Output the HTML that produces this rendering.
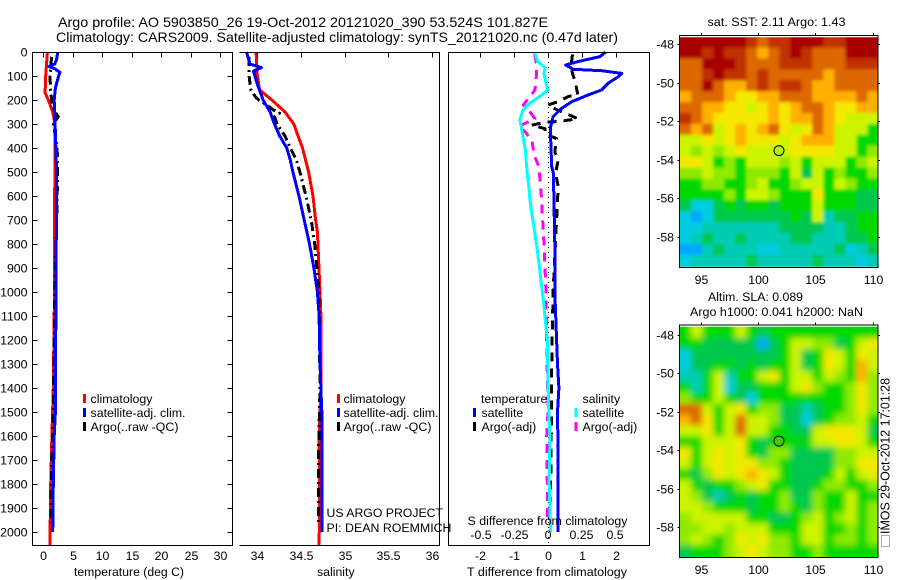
<!DOCTYPE html>
<html>
<head>
<meta charset="utf-8">
<title>Argo profile</title>
<style>
html,body{margin:0;padding:0;background:#fff;}
svg{display:block;}
text{font-family:"Liberation Sans",sans-serif;font-size:12.3px;fill:#000;}
.ttl{font-size:14px;}
</style>
</head>
<body>
<svg id="chart" xmlns="http://www.w3.org/2000/svg" width="900" height="580" viewBox="0 0 900 580">
<rect width="900" height="580" fill="#fff"/>
<text class="ttl" x="58" y="27" textLength="490" lengthAdjust="spacingAndGlyphs">Argo profile: AO 5903850_26 19-Oct-2012 20121020_390 53.524S 101.827E</text>
<text class="ttl" x="56" y="42" textLength="562" lengthAdjust="spacingAndGlyphs">Climatology: CARS2009. Satellite-adjusted climatology: synTS_20121020.nc (0.47d later)</text>
<g id="plots"></g>
<g id="maps"></g>

<text x="74" y="576" textLength="110" lengthAdjust="spacingAndGlyphs">temperature (deg C)</text>
<text x="317" y="576">salinity</text>
<text x="467" y="576" textLength="160" lengthAdjust="spacingAndGlyphs">T difference from climatology</text>
<text x="467.5" y="525" textLength="160" lengthAdjust="spacingAndGlyphs">S difference from climatology</text>

<g>
<rect x="83" y="394" width="3" height="9" fill="#f00"/>
<text x="90.5" y="403" textLength="62" lengthAdjust="spacingAndGlyphs">climatology</text>
<rect x="83" y="408" width="3" height="9" fill="#00f"/>
<text x="90.5" y="417" textLength="95" lengthAdjust="spacingAndGlyphs">satellite-adj. clim.</text>
<rect x="83" y="422" width="3" height="9" fill="#000"/>
<text x="90.5" y="431" textLength="88" lengthAdjust="spacingAndGlyphs">Argo(..raw -QC)</text>
</g>
<g>
<rect x="337" y="394" width="3" height="9" fill="#f00"/>
<text x="343.5" y="403" textLength="62" lengthAdjust="spacingAndGlyphs">climatology</text>
<rect x="337" y="408" width="3" height="9" fill="#00f"/>
<text x="343.5" y="417" textLength="95" lengthAdjust="spacingAndGlyphs">satellite-adj. clim.</text>
<rect x="337" y="422" width="3" height="9" fill="#000"/>
<text x="343.5" y="431" textLength="88" lengthAdjust="spacingAndGlyphs">Argo(..raw -QC)</text>
</g>
<g>
<text x="481" y="403">temperature</text>
<rect x="473" y="408" width="3" height="9" fill="#00f"/>
<text x="481.5" y="417">satellite</text>
<rect x="473" y="422" width="3" height="9" fill="#000"/>
<text x="481.5" y="431">Argo(-adj)</text>
<text x="582.5" y="403">salinity</text>
<rect x="574.5" y="408" width="3" height="9" fill="#0ff"/>
<text x="582.5" y="417">satellite</text>
<rect x="574.5" y="422" width="3" height="9" fill="#f0f"/>
<text x="582.5" y="431">Argo(-adj)</text>
</g>

<text x="326.5" y="517" textLength="116.5" lengthAdjust="spacingAndGlyphs">US ARGO PROJECT</text>
<text x="326.5" y="532" textLength="125" lengthAdjust="spacingAndGlyphs">PI: DEAN ROEMMICH</text>

<text x="707.5" y="26" textLength="138" lengthAdjust="spacingAndGlyphs">sat. SST: 2.11 Argo: 1.43</text>
<text x="708" y="301" textLength="95" lengthAdjust="spacingAndGlyphs">Altim. SLA: 0.089</text>
<text x="690" y="316" textLength="173" lengthAdjust="spacingAndGlyphs">Argo h1000: 0.041 h2000: NaN</text>

<rect x="881.5" y="535.5" width="8" height="11" fill="none" stroke="#555" stroke-dasharray="1 1"/>
<text transform="translate(889.5,534) rotate(-90)" textLength="156" lengthAdjust="spacingAndGlyphs" style="font-size:13px">IMOS 29-Oct-2012 17:01:28</text>
</svg>

<script>
// ---------- Profile data ----------
const depthTicks = [0,100,200,300,400,500,600,700,800,900,1000,1100,1200,1300,1400,1500,1600,1700,1800,1900,2000];
const tempTicks = [0,5,10,15,20,25,30];
const salTicks = [34,34.5,35,35.5,36];
const tDiffTicks = [-2,-1,0,1,2];
const sDiffTicks = [-0.5,-0.25,0,0.25,0.5];
const sDiffTickLabels = ["-0.5","-0.25","0","0.25","0.5"];

const tempClimDepth = [0,100,170,200,250,300,500,1000,1400,1600,1800,2000,2054];
const tempClimValue = [0.75,0.45,0.35,0.9,1.65,2.05,2.0,1.95,1.75,1.5,1.3,1.2,1.15];
const tempSatDepth = [0,30,50,60,70,85,100,150,200,300,500,1000,1400,1500,1600,1800,2000];
const tempSatValue = [2.5,2.3,2.0,1.0,2.0,2.9,2.65,2.1,1.9,2.05,2.3,2.2,2.1,2.1,1.9,1.75,1.65];
const tempArgoDepth = [20,100,150,200,240,270,300,320,400,500,600,1000,1500,1700,1900,1960];
const tempArgoValue = [1.45,1.2,1.25,1.45,1.8,2.6,1.75,1.9,2.4,2.45,2.4,2.0,1.75,1.45,1.35,1.3];

const salClimDepth = [0,87,158,200,250,300,350,400,500,600,700,750,1000,1100,1400,1600,1900,2054];
const salClimValue = [33.99,34.0,34.03,34.17,34.32,34.42,34.47,34.52,34.59,34.64,34.67,34.69,34.72,34.73,34.73,34.71,34.715,34.71];
const salSatDepth = [0,50,65,80,130,160,200,250,300,350,400,450,500,600,700,750,800,900,1000,1100,1300,1500,2000];
const salSatValue = [33.88,33.92,34.05,33.96,34.0,34.03,34.07,34.15,34.2,34.26,34.34,34.38,34.41,34.48,34.54,34.57,34.6,34.65,34.69,34.71,34.72,34.74,34.74];
const salArgoDepth = [20,100,160,190,200,220,240,255,270,300,350,400,450,500,600,700,750,800,1000,1400,1700,1960];
const salArgoValue = [33.91,33.91,33.93,33.99,34.02,34.11,34.18,34.26,34.2,34.23,34.32,34.38,34.45,34.49,34.56,34.62,34.64,34.66,34.71,34.72,34.7,34.7];

const tDiffSatDepth = [0,19,40,54,72,78,89,103,130,158,179,207,235,269,311,367,478,506,800,1000,1300,1400,1500,1700,1900,2000];
const tDiffSatValue = [1.7,1.53,0.88,0.52,0.74,1.58,2.17,2.07,1.77,1.58,1.18,0.7,0.4,0.15,0.08,0.08,0.11,0.16,0.2,0.2,0.28,0.32,0.28,0.3,0.3,0.3];
const sDiffSatDepth = [0,40,54,65,89,130,158,179,213,240,281,323,406,506,574,617,825,1033,1200,1450,1617,1783,2000];
const sDiffSatValue = [-0.1,-0.077,-0.047,-0.022,-0.03,-0.015,-0.002,-0.047,-0.134,-0.184,-0.21,-0.196,-0.17,-0.155,-0.14,-0.135,-0.08,-0.035,-0.005,0.003,0.015,0.008,0.02];
const tDiffArgoDepth = [10,33,65,130,179,185,204,221,240,278,290,292,305,319,340,361,417,450,506,560,1000,1300,1700,1950];
const tDiffArgoValue = [0.72,0.7,0.67,0.81,0.88,0.6,0.35,0,0.25,0.88,0.3,-0.06,-0.48,-0.09,-0.09,0.25,0.2,0.3,0.22,0.3,0.15,0.11,0.09,0.05];
const sDiffArgoDepth = [10,49,89,158,194,221,240,278,310,333,367,430,478,533,600,800,1000,1200,1500,1600,1800,1950];
const sDiffArgoValue = [-0.1,-0.085,-0.085,-0.097,-0.147,-0.184,-0.147,-0.097,-0.22,-0.17,-0.12,-0.104,-0.067,-0.06,-0.05,-0.03,-0.015,-0.01,0,-0.01,-0.005,-0.005];

// ---------- Map data (colour-class values) ----------
const lonTicks = [95,100,105,110];
const latTicks = [48,50,52,54,56,58];
const latTickLabels = ["-48","-50","-52","-54","-56","-58"];
const sstGrid = [
[11,11,11,11,11,11,10,9,10,10,11,11,11,10,10,11,11,11],
[11,11,10,11,10,10,9,8,9,10,11,10,9,9,9,11,11,11],
[9,9,11,11,11,10,9,9,9,10,10,10,9,9,9,10,10,10],
[9,9,10,11,10,10,9,10,9,9,9,9,9,8,9,9,9,9],
[9,9,11,9,8,8,9,10,9,10,10,9,8,8,9,9,9,9],
[8,9,9,9,8,7,7,8,8,9,9,9,8,8,8,8,9,8],
[9,9,8,8,7,7,6,7,8,7,8,9,9,8,7,7,8,8],
[10,9,8,7,7,7,7,7,8,7,8,8,9,8,7,6,6,6],
[9,8,9,6,7,8,7,8,9,7,6,7,9,8,6,6,6,4],
[6,6,7,6,7,8,7,7,7,6,7,8,8,8,6,6,4,4],
[6,5,6,5,6,7,6,6,6,6,7,7,7,7,6,6,4,5],
[7,7,6,4,5,4,6,6,6,5,6,4,6,6,6,4,5,6],
[5,5,6,5,5,4,5,5,5,4,6,3,6,4,5,4,4,5],
[4,4,5,5,4,4,5,6,4,4,5,6,6,4,6,5,4,4],
[4,4,4,4,5,4,6,6,5,4,4,4,7,4,4,4,3,3],
[3,1,1,3,4,3,4,4,3,4,4,4,6,4,4,4,3,3],
[1,0,1,3,3,3,3,3,3,3,4,3,6,2,3,3,4,4],
[1,1,2,2,2,2,2,2,2,3,3,3,3,2,2,3,4,4],
[1,2,3,2,2,3,2,2,2,2,3,3,2,2,2,3,3,4],
[0,0,2,3,2,2,2,1,1,2,2,2,2,2,3,1,2,3],
[1,2,2,2,2,2,3,2,2,2,2,2,3,2,2,2,1,2]
];
const slaGrid = [
[4,6,4,4,4,6,4,3,4,4,4,4,4,4,4,4,4,4],
[4,4,3,3,3,3,3,0,3,4,6,6,5,5,3,4,6,7],
[1,3,3,3,3,3,3,3,3,4,6,3,4,7,6,4,7,6],
[1,3,3,4,4,3,4,3,4,4,6,3,4,7,6,4,8,6],
[2,2,4,6,2,4,4,6,7,4,6,6,4,6,5,4,8,5],
[4,2,4,6,1,3,3,4,4,4,6,7,5,4,4,5,7,5],
[5,4,4,6,4,3,1,4,4,4,4,4,4,4,4,5,7,5],
[9,9,6,4,6,7,4,5,5,3,3,2,3,4,4,5,7,5],
[8,9,7,4,6,9,6,6,5,3,3,1,3,4,5,5,6,4],
[6,6,7,4,6,9,6,6,4,4,3,3,6,7,7,7,6,3],
[4,4,6,6,6,7,4,3,4,4,4,4,6,6,7,7,6,4],
[7,4,6,7,6,7,4,3,5,5,3,3,3,3,5,5,6,6],
[6,4,6,7,6,7,7,5,5,4,3,3,3,3,5,5,7,7],
[4,3,5,7,6,7,8,7,6,4,3,3,3,4,6,4,6,7],
[6,4,3,4,4,5,6,7,4,4,3,3,4,5,5,4,4,5],
[6,5,3,2,3,4,3,4,4,5,3,3,5,4,4,6,4,4],
[6,6,5,4,4,4,3,4,4,5,4,3,5,4,4,6,4,5],
[5,6,6,6,6,6,4,4,3,3,4,5,6,4,5,6,4,5],
[5,5,6,6,5,6,6,6,4,4,4,6,6,4,4,5,4,5],
[5,6,5,4,5,7,6,7,5,5,4,6,6,4,5,5,4,5],
[3,4,4,4,5,6,7,6,5,5,4,4,5,4,4,4,4,4]
];
const argoLon = 101.827;
const argoLat = 53.524;
const gridLonStart = 93.2;
const gridLonStep = 0.961;
const gridLatStart = 47.6;
const gridLatStep = 0.567;

// ---------- Helpers ----------
const NS = 'http://www.w3.org/2000/svg';
const plots = document.getElementById('plots');
const maps = document.getElementById('maps');
function mk(tag, parent, attrs) {
  const el = document.createElementNS(NS, tag);
  for (const k in attrs) el.setAttribute(k, attrs[k]);
  parent.appendChild(el);
  return el;
}
function seg(parent, x1, y1, x2, y2) {
  return mk('line', parent, {x1:x1, y1:y1, x2:x2, y2:y2, stroke:'#000', 'stroke-width':1, 'shape-rendering':'crispEdges'});
}
function drawText(parent, x, y, str, anchor) {
  const t = mk('text', parent, {x:x, y:y, 'text-anchor':anchor});
  t.textContent = str;
  return t;
}
function drawLine(parent, xs, ys, xFn, color, width, dash) {
  let d = '';
  for (let i = 0; i < xs.length; i++) {
    d += (i ? 'L' : 'M') + xFn(xs[i]).toFixed(1) + ' ' + yDepth(ys[i]).toFixed(1);
  }
  const attrs = {d:d, fill:'none', stroke:color, 'stroke-width':width, 'stroke-linejoin':'round', 'shape-rendering':'crispEdges'};
  if (dash) attrs['stroke-dasharray'] = dash;
  return mk('path', parent, attrs);
}

// ---------- Axis functions ----------
const plotTop = 52, plotBottom = 545;
function yDepth(d) { return plotTop + d * 0.24; }
function xTemp(v) { return 43 + v * 5.9; }
function xSal(v) { return 257 + (v - 34) * 87.5; }
function xTDiff(v) { return 548 + v * 34; }
function xSDiff(v) { return 548 + v * 134; }

// ---------- Temperature panel ----------
const tempPanel = mk('g', plots, {});



const tempClimLine = drawLine(tempPanel, tempClimValue, tempClimDepth, xTemp, '#f00', 3);


const tempArgoLine = drawLine(tempPanel, tempArgoValue, tempArgoDepth, xTemp, '#000', 3, '9 4 2 4');


const tempSatLine = drawLine(tempPanel, tempSatValue, tempSatDepth, xTemp, '#00f', 3);



const tempFrame = mk('path', tempPanel, {d:'M32.5 52.5H232.5V545.5H32.5Z', fill:'none', stroke:'#000', 'stroke-width':1, 'shape-rendering':'crispEdges'});



depthTicks.forEach(function (d) {
  const y = Math.round(yDepth(d)) + 0.5;
  const tl = seg(tempPanel, 32.5, y, 37.5, y);
  
  
  const tr = seg(tempPanel, 227.5, y, 232.5, y);
  
  
  const lb = drawText(tempPanel, 27.5, y + 4, String(d), 'end');
  
  
});
tempTicks.forEach(function (v) {
  const x = Math.round(xTemp(v)) + 0.5;
  const t = seg(tempPanel, x, 52.5, x, 57.5);
  
  
  const lb = drawText(tempPanel, x, 560, String(v), 'middle');
  
  
});

// ---------- Salinity panel ----------
const salPanel = mk('g', plots, {});



const salClimLine = drawLine(salPanel, salClimValue, salClimDepth, xSal, '#f00', 3);


const salArgoLine = drawLine(salPanel, salArgoValue, salArgoDepth, xSal, '#000', 3, '9 4 2 4');


const salSatLine = drawLine(salPanel, salSatValue, salSatDepth, xSal, '#00f', 3);



const salFrame = mk('path', salPanel, {d:'M239.5 52.5H439.5V545.5H239.5', fill:'none', stroke:'#000', 'stroke-width':1, 'shape-rendering':'crispEdges'});



salTicks.forEach(function (v) {
  const x = Math.round(xSal(v)) + 0.5;
  const t = seg(salPanel, x, 52.5, x, 57.5);
  
  
  const lb = drawText(salPanel, x, 560, String(v), 'middle');
  
  
});

// ---------- Difference panel ----------
const diffPanel = mk('g', plots, {});



const zeroLine = mk('line', diffPanel, {x1:548.5, y1:52, x2:548.5, y2:545, stroke:'#000', 'stroke-width':1, 'stroke-dasharray':'1 4', 'shape-rendering':'crispEdges'});



const tDiffArgoLine = drawLine(diffPanel, tDiffArgoValue, tDiffArgoDepth, xTDiff, '#000', 3, '9 7');


const sDiffArgoLine = drawLine(diffPanel, sDiffArgoValue, sDiffArgoDepth, xSDiff, '#f0f', 3, '9 7');


const tDiffSatLine = drawLine(diffPanel, tDiffSatValue, tDiffSatDepth, xTDiff, '#00f', 3);


const sDiffSatLine = drawLine(diffPanel, sDiffSatValue, sDiffSatDepth, xSDiff, '#0ff', 3);



const diffFrame = mk('rect', diffPanel, {x:448.5, y:52.5, width:201, height:493, fill:'none', stroke:'#000', 'stroke-width':1, 'shape-rendering':'crispEdges'});



tDiffTicks.forEach(function (v) {
  const x = Math.round(xTDiff(v)) + 0.5;
  const t = seg(diffPanel, x, 52.5, x, 57.5);
  
  
  const lb = drawText(diffPanel, x, 560, String(v), 'middle');
  
  
});
sDiffTicks.forEach(function (v, i) {
  const lb = drawText(diffPanel, xSDiff(v), 539, sDiffTickLabels[i], 'middle');
  
  
});

// ---------- Maps ----------
const classColors = ['#00a8ff','#00cce0','#00ccb4','#00c850','#00d800','#90ea00','#ccf400','#f4e800','#ffb000','#dc6800','#c03000','#a80000'];
function xLon(v) { return 700.7 + (v - 95) * 11.47; }

const defs = mk('defs', maps, {});
function addDefs(id, blurId, x, y, w, h, sd) {
  const cp = mk('clipPath', defs, {id:id});
  mk('rect', cp, {x:x, y:y, width:w, height:h});
  const f = mk('filter', defs, {id:blurId, x:x - 30, y:y - 30, width:w + 60, height:h + 60, filterUnits:'userSpaceOnUse'});
  mk('feGaussianBlur', f, {stdDeviation:sd});
}
addDefs('clip-sst', 'blur-sst', 679.5, 37.3, 198, 229.5, 1.6);
addDefs('clip-sla', 'blur-sla', 679.5, 326.7, 198, 230.5, 3.2);

function drawMap(grid, panel, yLat, clipId, blurId) {
  const clip = mk('g', panel, {'clip-path':'url(#' + clipId + ')'});
  const cells = mk('g', clip, {filter:'url(#' + blurId + ')'});
  const nr = grid.length;
  const nc = grid[0].length;
  grid.forEach(function (row, r) {
    row.forEach(function (val, c) {
      const x0 = xLon(gridLonStart + c * gridLonStep) - (c === 0 ? 15 : 0);
      const x1 = xLon(gridLonStart + (c + 1) * gridLonStep) + (c === nc - 1 ? 15 : 0.5);
      const y0 = yLat(gridLatStart + r * gridLatStep) - (r === 0 ? 15 : 0);
      const y1 = yLat(gridLatStart + (r + 1) * gridLatStep) + (r === nr - 1 ? 15 : 0.5);
      const cell = mk('rect', cells, {x:x0.toFixed(1), y:y0.toFixed(1), width:(x1 - x0).toFixed(1), height:(y1 - y0).toFixed(1), fill:classColors[Math.max(0, Math.min(11, Math.round(val)))]});
      
      
    });
  });
}
function drawMapAxes(panel, yLat, top, bottom, labelY, markerFill) {
  const frame = mk('rect', panel, {x:679.5, y:top + 0.5, width:198.5, height:bottom - top, fill:'none', stroke:'#000', 'stroke-width':1, 'shape-rendering':'crispEdges'});
  
  
  lonTicks.forEach(function (v) {
    const x = Math.round(xLon(v)) + 0.5;
    const t = seg(panel, x, top - 2, x, top);
    
    
    const lb = drawText(panel, x, labelY, String(v), 'middle');
    
    
  });
  latTicks.forEach(function (v, i) {
    const y = Math.round(yLat(v)) + 0.5;
    const tl = seg(panel, 677.5, y, 679.5, y);
    
    
    const tr = seg(panel, 878, y, 880, y);
    
    
    const lb = drawText(panel, 674, y + 4, latTickLabels[i], 'end');
    
    
  });
  const mark = mk('circle', panel, {cx:xLon(argoLon).toFixed(1), cy:yLat(argoLat).toFixed(1), r:5, fill:markerFill, stroke:'#000', 'stroke-width':1});
  
  
}

const sstPanel = mk('g', maps, {});


function yLatSst(v) { return 44.3 + (v - 48) * 19.25; }
drawMap(sstGrid, sstPanel, yLatSst, 'clip-sst', 'blur-sst');
drawMapAxes(sstPanel, yLatSst, 35, 267, 284, '#b4f000');

const slaPanel = mk('g', maps, {});


function yLatSla(v) { return 335 + (v - 48) * 19.2; }
drawMap(slaGrid, slaPanel, yLatSla, 'clip-sla', 'blur-sla');
drawMapAxes(slaPanel, yLatSla, 324.5, 557, 574, '#40d000');
</script>
</body>
</html>
